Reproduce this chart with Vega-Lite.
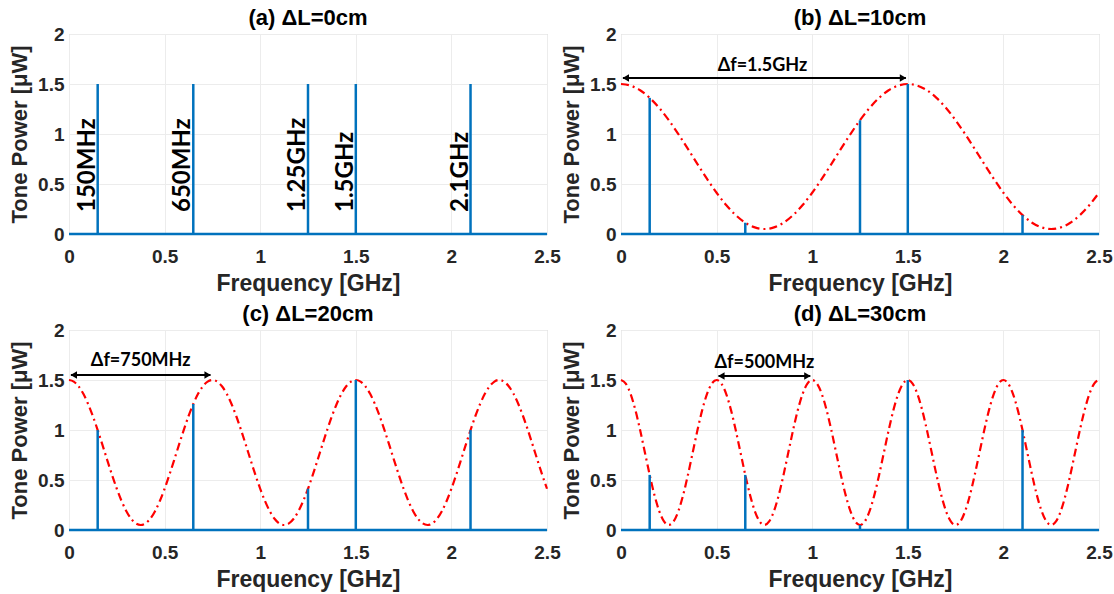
{
"$schema": "https://vega.github.io/schema/vega-lite/v6.json",
"padding": {"left": 8, "top": 6, "right": 5, "bottom": 0},
"background": "white",
"datasets": {
"stems": [
{"panel":"a","f":0.15,"p":1.5},{"panel":"a","f":0.65,"p":1.5},{"panel":"a","f":1.25,"p":1.5},{"panel":"a","f":1.5,"p":1.5},{"panel":"a","f":2.1,"p":1.5},
{"panel":"b","f":0.15,"p":1.3615},{"panel":"b","f":0.65,"p":0.1127},{"panel":"b","f":1.25,"p":1.1375},{"panel":"b","f":1.5,"p":1.5},{"panel":"b","f":2.1,"p":0.1885},
{"panel":"c","f":0.15,"p":0.999},{"panel":"c","f":0.65,"p":1.2601},{"panel":"c","f":1.25,"p":0.4125},{"panel":"c","f":1.5,"p":1.5},{"panel":"c","f":2.1,"p":0.999},
{"panel":"d","f":0.15,"p":0.551},{"panel":"d","f":0.65,"p":0.551},{"panel":"d","f":1.25,"p":0.05},{"panel":"d","f":1.5,"p":1.5},{"panel":"d","f":2.1,"p":0.999}
],
"base": [{"f":0,"f2":2.5,"p":0}],
"labels": [
{"f":0.15,"p":0.22,"text":"150MHz"},{"f":0.65,"p":0.22,"text":"650MHz"},{"f":1.25,"p":0.22,"text":"1.25GHz"},{"f":1.5,"p":0.22,"text":"1.5GHz"},{"f":2.1,"p":0.22,"text":"2.1GHz"}
],
"arrows": [
{"panel":"b","f":0.01,"f2":1.49,"p":1.56},
{"panel":"c","f":0.01,"f2":0.74,"p":1.55},
{"panel":"d","f":0.51,"f2":0.99,"p":1.54}
],
"heads": [
{"panel":"b","f":0.025,"p":1.56,"shape":"triangle-left"},{"panel":"b","f":1.475,"p":1.56,"shape":"triangle-right"},
{"panel":"c","f":0.025,"p":1.55,"shape":"triangle-left"},{"panel":"c","f":0.725,"p":1.55,"shape":"triangle-right"},
{"panel":"d","f":0.525,"p":1.54,"shape":"triangle-left"},{"panel":"d","f":0.975,"p":1.54,"shape":"triangle-right"}
],
"notes": [
{"panel":"b","f":0.74,"p":1.68,"text":"Δf=1.5GHz"},
{"panel":"c","f":0.375,"p":1.69,"text":"Δf=750MHz"},
{"panel":"d","f":0.75,"p":1.67,"text":"Δf=500MHz"}
],
"curves": [
{"panel":"b","f":0,"p":1.5},{"panel":"b","f":0.05,"p":1.4842},{"panel":"b","f":0.1,"p":1.4373},{"panel":"b","f":0.15,"p":1.3615},{"panel":"b","f":0.2,"p":1.2601},{"panel":"b","f":0.25,"p":1.1375},{"panel":"b","f":0.3,"p":0.999},{"panel":"b","f":0.35,"p":0.8508},{"panel":"b","f":0.4,"p":0.6992},{"panel":"b","f":0.45,"p":0.551},
{"panel":"b","f":0.5,"p":0.4125},{"panel":"b","f":0.55,"p":0.2899},{"panel":"b","f":0.6,"p":0.1885},{"panel":"b","f":0.65,"p":0.1127},{"panel":"b","f":0.7,"p":0.0658},{"panel":"b","f":0.75,"p":0.05},{"panel":"b","f":0.8,"p":0.0658},{"panel":"b","f":0.85,"p":0.1127},{"panel":"b","f":0.9,"p":0.1885},{"panel":"b","f":0.95,"p":0.2899},
{"panel":"b","f":1.0,"p":0.4125},{"panel":"b","f":1.05,"p":0.551},{"panel":"b","f":1.1,"p":0.6992},{"panel":"b","f":1.15,"p":0.8508},{"panel":"b","f":1.2,"p":0.999},{"panel":"b","f":1.25,"p":1.1375},{"panel":"b","f":1.3,"p":1.2601},{"panel":"b","f":1.35,"p":1.3615},{"panel":"b","f":1.4,"p":1.4373},{"panel":"b","f":1.45,"p":1.4842},
{"panel":"b","f":1.5,"p":1.5},{"panel":"b","f":1.55,"p":1.4842},{"panel":"b","f":1.6,"p":1.4373},{"panel":"b","f":1.65,"p":1.3615},{"panel":"b","f":1.7,"p":1.2601},{"panel":"b","f":1.75,"p":1.1375},{"panel":"b","f":1.8,"p":0.999},{"panel":"b","f":1.85,"p":0.8508},{"panel":"b","f":1.9,"p":0.6992},{"panel":"b","f":1.95,"p":0.551},
{"panel":"b","f":2.0,"p":0.4125},{"panel":"b","f":2.05,"p":0.2899},{"panel":"b","f":2.1,"p":0.1885},{"panel":"b","f":2.15,"p":0.1127},{"panel":"b","f":2.2,"p":0.0658},{"panel":"b","f":2.25,"p":0.05},{"panel":"b","f":2.3,"p":0.0658},{"panel":"b","f":2.35,"p":0.1127},{"panel":"b","f":2.4,"p":0.1885},{"panel":"b","f":2.45,"p":0.2899},{"panel":"b","f":2.5,"p":0.4125},

{"panel":"c","f":0,"p":1.5},{"panel":"c","f":0.025,"p":1.4842},{"panel":"c","f":0.05,"p":1.4373},{"panel":"c","f":0.075,"p":1.3615},{"panel":"c","f":0.1,"p":1.2601},{"panel":"c","f":0.125,"p":1.1375},{"panel":"c","f":0.15,"p":0.999},{"panel":"c","f":0.175,"p":0.8508},{"panel":"c","f":0.2,"p":0.6992},{"panel":"c","f":0.225,"p":0.551},
{"panel":"c","f":0.25,"p":0.4125},{"panel":"c","f":0.275,"p":0.2899},{"panel":"c","f":0.3,"p":0.1885},{"panel":"c","f":0.325,"p":0.1127},{"panel":"c","f":0.35,"p":0.0658},{"panel":"c","f":0.375,"p":0.05},{"panel":"c","f":0.4,"p":0.0658},{"panel":"c","f":0.425,"p":0.1127},{"panel":"c","f":0.45,"p":0.1885},{"panel":"c","f":0.475,"p":0.2899},
{"panel":"c","f":0.5,"p":0.4125},{"panel":"c","f":0.525,"p":0.551},{"panel":"c","f":0.55,"p":0.6992},{"panel":"c","f":0.575,"p":0.8508},{"panel":"c","f":0.6,"p":0.999},{"panel":"c","f":0.625,"p":1.1375},{"panel":"c","f":0.65,"p":1.2601},{"panel":"c","f":0.675,"p":1.3615},{"panel":"c","f":0.7,"p":1.4373},{"panel":"c","f":0.725,"p":1.4842},
{"panel":"c","f":0.75,"p":1.5},{"panel":"c","f":0.775,"p":1.4842},{"panel":"c","f":0.8,"p":1.4373},{"panel":"c","f":0.825,"p":1.3615},{"panel":"c","f":0.85,"p":1.2601},{"panel":"c","f":0.875,"p":1.1375},{"panel":"c","f":0.9,"p":0.999},{"panel":"c","f":0.925,"p":0.8508},{"panel":"c","f":0.95,"p":0.6992},{"panel":"c","f":0.975,"p":0.551},
{"panel":"c","f":1.0,"p":0.4125},{"panel":"c","f":1.025,"p":0.2899},{"panel":"c","f":1.05,"p":0.1885},{"panel":"c","f":1.075,"p":0.1127},{"panel":"c","f":1.1,"p":0.0658},{"panel":"c","f":1.125,"p":0.05},{"panel":"c","f":1.15,"p":0.0658},{"panel":"c","f":1.175,"p":0.1127},{"panel":"c","f":1.2,"p":0.1885},{"panel":"c","f":1.225,"p":0.2899},
{"panel":"c","f":1.25,"p":0.4125},{"panel":"c","f":1.275,"p":0.551},{"panel":"c","f":1.3,"p":0.6992},{"panel":"c","f":1.325,"p":0.8508},{"panel":"c","f":1.35,"p":0.999},{"panel":"c","f":1.375,"p":1.1375},{"panel":"c","f":1.4,"p":1.2601},{"panel":"c","f":1.425,"p":1.3615},{"panel":"c","f":1.45,"p":1.4373},{"panel":"c","f":1.475,"p":1.4842},
{"panel":"c","f":1.5,"p":1.5},{"panel":"c","f":1.525,"p":1.4842},{"panel":"c","f":1.55,"p":1.4373},{"panel":"c","f":1.575,"p":1.3615},{"panel":"c","f":1.6,"p":1.2601},{"panel":"c","f":1.625,"p":1.1375},{"panel":"c","f":1.65,"p":0.999},{"panel":"c","f":1.675,"p":0.8508},{"panel":"c","f":1.7,"p":0.6992},{"panel":"c","f":1.725,"p":0.551},
{"panel":"c","f":1.75,"p":0.4125},{"panel":"c","f":1.775,"p":0.2899},{"panel":"c","f":1.8,"p":0.1885},{"panel":"c","f":1.825,"p":0.1127},{"panel":"c","f":1.85,"p":0.0658},{"panel":"c","f":1.875,"p":0.05},{"panel":"c","f":1.9,"p":0.0658},{"panel":"c","f":1.925,"p":0.1127},{"panel":"c","f":1.95,"p":0.1885},{"panel":"c","f":1.975,"p":0.2899},
{"panel":"c","f":2.0,"p":0.4125},{"panel":"c","f":2.025,"p":0.551},{"panel":"c","f":2.05,"p":0.6992},{"panel":"c","f":2.075,"p":0.8508},{"panel":"c","f":2.1,"p":0.999},{"panel":"c","f":2.125,"p":1.1375},{"panel":"c","f":2.15,"p":1.2601},{"panel":"c","f":2.175,"p":1.3615},{"panel":"c","f":2.2,"p":1.4373},{"panel":"c","f":2.225,"p":1.4842},
{"panel":"c","f":2.25,"p":1.5},{"panel":"c","f":2.275,"p":1.4842},{"panel":"c","f":2.3,"p":1.4373},{"panel":"c","f":2.325,"p":1.3615},{"panel":"c","f":2.35,"p":1.2601},{"panel":"c","f":2.375,"p":1.1375},{"panel":"c","f":2.4,"p":0.999},{"panel":"c","f":2.425,"p":0.8508},{"panel":"c","f":2.45,"p":0.6992},{"panel":"c","f":2.475,"p":0.551},{"panel":"c","f":2.5,"p":0.4125},

{"panel":"d","f":0,"p":1.5},{"panel":"d","f":0.025,"p":1.4645},{"panel":"d","f":0.05,"p":1.3615},{"panel":"d","f":0.075,"p":1.2011},{"panel":"d","f":0.1,"p":0.999},{"panel":"d","f":0.125,"p":0.775},{"panel":"d","f":0.15,"p":0.551},{"panel":"d","f":0.175,"p":0.3489},{"panel":"d","f":0.2,"p":0.1885},{"panel":"d","f":0.225,"p":0.0855},
{"panel":"d","f":0.25,"p":0.05},{"panel":"d","f":0.275,"p":0.0855},{"panel":"d","f":0.3,"p":0.1885},{"panel":"d","f":0.325,"p":0.3489},{"panel":"d","f":0.35,"p":0.551},{"panel":"d","f":0.375,"p":0.775},{"panel":"d","f":0.4,"p":0.999},{"panel":"d","f":0.425,"p":1.2011},{"panel":"d","f":0.45,"p":1.3615},{"panel":"d","f":0.475,"p":1.4645},
{"panel":"d","f":0.5,"p":1.5},{"panel":"d","f":0.525,"p":1.4645},{"panel":"d","f":0.55,"p":1.3615},{"panel":"d","f":0.575,"p":1.2011},{"panel":"d","f":0.6,"p":0.999},{"panel":"d","f":0.625,"p":0.775},{"panel":"d","f":0.65,"p":0.551},{"panel":"d","f":0.675,"p":0.3489},{"panel":"d","f":0.7,"p":0.1885},{"panel":"d","f":0.725,"p":0.0855},
{"panel":"d","f":0.75,"p":0.05},{"panel":"d","f":0.775,"p":0.0855},{"panel":"d","f":0.8,"p":0.1885},{"panel":"d","f":0.825,"p":0.3489},{"panel":"d","f":0.85,"p":0.551},{"panel":"d","f":0.875,"p":0.775},{"panel":"d","f":0.9,"p":0.999},{"panel":"d","f":0.925,"p":1.2011},{"panel":"d","f":0.95,"p":1.3615},{"panel":"d","f":0.975,"p":1.4645},
{"panel":"d","f":1.0,"p":1.5},{"panel":"d","f":1.025,"p":1.4645},{"panel":"d","f":1.05,"p":1.3615},{"panel":"d","f":1.075,"p":1.2011},{"panel":"d","f":1.1,"p":0.999},{"panel":"d","f":1.125,"p":0.775},{"panel":"d","f":1.15,"p":0.551},{"panel":"d","f":1.175,"p":0.3489},{"panel":"d","f":1.2,"p":0.1885},{"panel":"d","f":1.225,"p":0.0855},
{"panel":"d","f":1.25,"p":0.05},{"panel":"d","f":1.275,"p":0.0855},{"panel":"d","f":1.3,"p":0.1885},{"panel":"d","f":1.325,"p":0.3489},{"panel":"d","f":1.35,"p":0.551},{"panel":"d","f":1.375,"p":0.775},{"panel":"d","f":1.4,"p":0.999},{"panel":"d","f":1.425,"p":1.2011},{"panel":"d","f":1.45,"p":1.3615},{"panel":"d","f":1.475,"p":1.4645},
{"panel":"d","f":1.5,"p":1.5},{"panel":"d","f":1.525,"p":1.4645},{"panel":"d","f":1.55,"p":1.3615},{"panel":"d","f":1.575,"p":1.2011},{"panel":"d","f":1.6,"p":0.999},{"panel":"d","f":1.625,"p":0.775},{"panel":"d","f":1.65,"p":0.551},{"panel":"d","f":1.675,"p":0.3489},{"panel":"d","f":1.7,"p":0.1885},{"panel":"d","f":1.725,"p":0.0855},
{"panel":"d","f":1.75,"p":0.05},{"panel":"d","f":1.775,"p":0.0855},{"panel":"d","f":1.8,"p":0.1885},{"panel":"d","f":1.825,"p":0.3489},{"panel":"d","f":1.85,"p":0.551},{"panel":"d","f":1.875,"p":0.775},{"panel":"d","f":1.9,"p":0.999},{"panel":"d","f":1.925,"p":1.2011},{"panel":"d","f":1.95,"p":1.3615},{"panel":"d","f":1.975,"p":1.4645},
{"panel":"d","f":2.0,"p":1.5},{"panel":"d","f":2.025,"p":1.4645},{"panel":"d","f":2.05,"p":1.3615},{"panel":"d","f":2.075,"p":1.2011},{"panel":"d","f":2.1,"p":0.999},{"panel":"d","f":2.125,"p":0.775},{"panel":"d","f":2.15,"p":0.551},{"panel":"d","f":2.175,"p":0.3489},{"panel":"d","f":2.2,"p":0.1885},{"panel":"d","f":2.225,"p":0.0855},
{"panel":"d","f":2.25,"p":0.05},{"panel":"d","f":2.275,"p":0.0855},{"panel":"d","f":2.3,"p":0.1885},{"panel":"d","f":2.325,"p":0.3489},{"panel":"d","f":2.35,"p":0.551},{"panel":"d","f":2.375,"p":0.775},{"panel":"d","f":2.4,"p":0.999},{"panel":"d","f":2.425,"p":1.2011},{"panel":"d","f":2.45,"p":1.3615},{"panel":"d","f":2.475,"p":1.4645},{"panel":"d","f":2.5,"p":1.5}
]
},
"config": {
"font": "Liberation Sans",
"view": {"stroke": "#c4c4c4", "strokeWidth": 1},
"axis": {"labelFont": "Liberation Sans", "labelFontWeight": "bold", "labelFontSize": 19, "labelColor": "#262626", "titleFont": "Liberation Sans", "titleFontWeight": "bold", "titleFontSize": 23, "titleColor": "#262626", "grid": true, "gridColor": "#ececec", "gridWidth": 1, "ticks": false, "domain": false, "labelFlush": false, "labelOverlap": false, "format": "~g"},
"axisX": {"labelPadding": 13, "titlePadding": 6},
"axisY": {"labelPadding": 5, "titlePadding": 6, "titleFontSize": 22},
"title": {"font": "Liberation Sans", "fontSize": 22, "fontWeight": "bold", "color": "#000000", "offset": -5, "anchor": "middle"}
},
"columns": 2,
"bounds": "flush",
"spacing": {"row": 96, "column": 74},
"concat": [
{
"width": 478, "height": 200,
"title": "(a) ΔL=0cm",
"encoding": {
"x": {"field": "f", "type": "quantitative", "scale": {"domain": [0, 2.5], "nice": false}, "axis": {"title": "Frequency [GHz]", "values": [0, 0.5, 1, 1.5, 2, 2.5]}},
"y": {"field": "p", "type": "quantitative", "scale": {"domain": [0, 2], "nice": false}, "axis": {"title": "Tone Power [μW]", "values": [0, 0.5, 1, 1.5, 2]}}
},
"layer": [
{"data": {"name": "stems"}, "transform": [{"filter": "datum.panel == 'a'"}], "mark": {"type": "rule", "color": "#0072BD", "strokeWidth": 2.5}, "encoding": {"y2": {"datum": 0}}},
{"data": {"name": "base"}, "mark": {"type": "rule", "color": "#0072BD", "strokeWidth": 2.5}, "encoding": {"x2": {"field": "f2"}}},
{"data": {"name": "labels"}, "mark": {"type": "text", "font": "Lato", "fontWeight": "bold", "fontSize": 24, "angle": 270, "align": "left", "baseline": "alphabetic", "dy": -3, "color": "#000000"}, "encoding": {"text": {"field": "text"}}}
]
},
{
"width": 478, "height": 200,
"title": "(b) ΔL=10cm",
"encoding": {
"x": {"field": "f", "type": "quantitative", "scale": {"domain": [0, 2.5], "nice": false}, "axis": {"title": "Frequency [GHz]", "values": [0, 0.5, 1, 1.5, 2, 2.5]}},
"y": {"field": "p", "type": "quantitative", "scale": {"domain": [0, 2], "nice": false}, "axis": {"title": "Tone Power [μW]", "values": [0, 0.5, 1, 1.5, 2]}}
},
"layer": [
{"data": {"name": "curves"}, "transform": [{"filter": "datum.panel == 'b'"}], "mark": {"type": "line", "color": "#ff0000", "strokeWidth": 2.2, "strokeDash": [8, 4, 2, 4], "interpolate": "monotone"}, "encoding": {}},
{"data": {"name": "stems"}, "transform": [{"filter": "datum.panel == 'b'"}], "mark": {"type": "rule", "color": "#0072BD", "strokeWidth": 2.5}, "encoding": {"y2": {"datum": 0}}},
{"data": {"name": "base"}, "mark": {"type": "rule", "color": "#0072BD", "strokeWidth": 2.5}, "encoding": {"x2": {"field": "f2"}}},
{"data": {"name": "arrows"}, "transform": [{"filter": "datum.panel == 'b'"}], "mark": {"type": "rule", "color": "#000000", "strokeWidth": 2}, "encoding": {"x2": {"field": "f2"}}},
{"data": {"name": "heads"}, "transform": [{"filter": "datum.panel == 'b'"}], "mark": {"type": "point", "filled": true, "color": "#000000", "opacity": 1, "size": 55}, "encoding": {"shape": {"field": "shape", "type": "nominal", "scale": null}}},
{"data": {"name": "notes"}, "transform": [{"filter": "datum.panel == 'b'"}], "mark": {"type": "text", "font": "Lato", "fontWeight": "bold", "fontSize": 18, "color": "#000000", "baseline": "middle"}, "encoding": {"text": {"field": "text"}}}
]
},
{
"width": 478, "height": 200,
"title": "(c) ΔL=20cm",
"encoding": {
"x": {"field": "f", "type": "quantitative", "scale": {"domain": [0, 2.5], "nice": false}, "axis": {"title": "Frequency [GHz]", "values": [0, 0.5, 1, 1.5, 2, 2.5]}},
"y": {"field": "p", "type": "quantitative", "scale": {"domain": [0, 2], "nice": false}, "axis": {"title": "Tone Power [μW]", "values": [0, 0.5, 1, 1.5, 2]}}
},
"layer": [
{"data": {"name": "curves"}, "transform": [{"filter": "datum.panel == 'c'"}], "mark": {"type": "line", "color": "#ff0000", "strokeWidth": 2.2, "strokeDash": [8, 4, 2, 4], "interpolate": "monotone"}, "encoding": {}},
{"data": {"name": "stems"}, "transform": [{"filter": "datum.panel == 'c'"}], "mark": {"type": "rule", "color": "#0072BD", "strokeWidth": 2.5}, "encoding": {"y2": {"datum": 0}}},
{"data": {"name": "base"}, "mark": {"type": "rule", "color": "#0072BD", "strokeWidth": 2.5}, "encoding": {"x2": {"field": "f2"}}},
{"data": {"name": "arrows"}, "transform": [{"filter": "datum.panel == 'c'"}], "mark": {"type": "rule", "color": "#000000", "strokeWidth": 2}, "encoding": {"x2": {"field": "f2"}}},
{"data": {"name": "heads"}, "transform": [{"filter": "datum.panel == 'c'"}], "mark": {"type": "point", "filled": true, "color": "#000000", "opacity": 1, "size": 55}, "encoding": {"shape": {"field": "shape", "type": "nominal", "scale": null}}},
{"data": {"name": "notes"}, "transform": [{"filter": "datum.panel == 'c'"}], "mark": {"type": "text", "font": "Lato", "fontWeight": "bold", "fontSize": 18, "color": "#000000", "baseline": "middle"}, "encoding": {"text": {"field": "text"}}}
]
},
{
"width": 478, "height": 200,
"title": "(d) ΔL=30cm",
"encoding": {
"x": {"field": "f", "type": "quantitative", "scale": {"domain": [0, 2.5], "nice": false}, "axis": {"title": "Frequency [GHz]", "values": [0, 0.5, 1, 1.5, 2, 2.5]}},
"y": {"field": "p", "type": "quantitative", "scale": {"domain": [0, 2], "nice": false}, "axis": {"title": "Tone Power [μW]", "values": [0, 0.5, 1, 1.5, 2]}}
},
"layer": [
{"data": {"name": "curves"}, "transform": [{"filter": "datum.panel == 'd'"}], "mark": {"type": "line", "color": "#ff0000", "strokeWidth": 2.2, "strokeDash": [8, 4, 2, 4], "interpolate": "monotone"}, "encoding": {}},
{"data": {"name": "stems"}, "transform": [{"filter": "datum.panel == 'd'"}], "mark": {"type": "rule", "color": "#0072BD", "strokeWidth": 2.5}, "encoding": {"y2": {"datum": 0}}},
{"data": {"name": "base"}, "mark": {"type": "rule", "color": "#0072BD", "strokeWidth": 2.5}, "encoding": {"x2": {"field": "f2"}}},
{"data": {"name": "arrows"}, "transform": [{"filter": "datum.panel == 'd'"}], "mark": {"type": "rule", "color": "#000000", "strokeWidth": 2}, "encoding": {"x2": {"field": "f2"}}},
{"data": {"name": "heads"}, "transform": [{"filter": "datum.panel == 'd'"}], "mark": {"type": "point", "filled": true, "color": "#000000", "opacity": 1, "size": 55}, "encoding": {"shape": {"field": "shape", "type": "nominal", "scale": null}}},
{"data": {"name": "notes"}, "transform": [{"filter": "datum.panel == 'd'"}], "mark": {"type": "text", "font": "Lato", "fontWeight": "bold", "fontSize": 18, "color": "#000000", "baseline": "middle"}, "encoding": {"text": {"field": "text"}}}
]
}
]
}
